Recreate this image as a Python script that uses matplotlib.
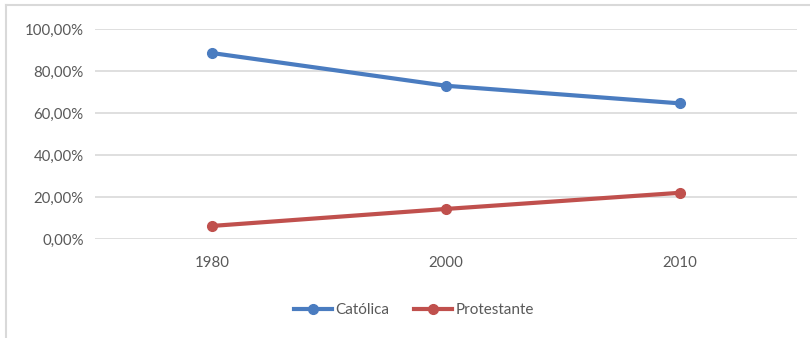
import matplotlib.pyplot as plt
from matplotlib.lines import Line2D
from matplotlib.ticker import FuncFormatter

anos = ['1980', '2000', '2010']
catolica = [0.886, 0.730, 0.646]
protestante = [0.062, 0.143, 0.220]

plt.rcParams['font.family'] = ['Lato', 'DejaVu Sans']

fig = plt.figure(figsize=(8.1, 3.38), dpi=100)
ax = fig.add_axes([0.117, 0.293, 0.867, 0.621])

x = range(len(anos))
ax.plot(x, catolica, color='#4A7CC0', lw=3, marker='o', ms=7, label='Católica')
ax.plot(x, protestante, color='#C0504D', lw=3, marker='o', ms=7, label='Protestante')

ax.set_xlim(-0.5, 2.5)
ax.set_ylim(0, 1)
ax.set_yticks([0, 0.2, 0.4, 0.6, 0.8, 1.0])
ax.yaxis.set_major_formatter(FuncFormatter(lambda v, p: ('%.2f%%' % (v * 100)).replace('.', ',')))
ax.set_xticks(list(x))
ax.set_xticklabels(anos)
ax.grid(axis='y', color='#D9D9D9', lw=1.2)
ax.set_axisbelow(True)
for s in ax.spines.values():
    s.set_visible(False)
ax.tick_params(length=0, labelsize=10.8, colors='#595959', pad=8)
ax.tick_params(axis='x', pad=12)

leg = fig.legend(loc='center', bbox_to_anchor=(0.511, 0.083), ncol=2, frameon=False,
                 fontsize=11, handlelength=2.5, columnspacing=1.6, handletextpad=0.2)
for t in leg.get_texts():
    t.set_color('#595959')

# outer chart frame (only top and left edges visible in the reference)
fig.lines.append(Line2D([0.007, 0.007], [0.0, 0.985], transform=fig.transFigure,
                        color='#D9D9D9', lw=1.5))
fig.lines.append(Line2D([0.007, 1.0], [0.985, 0.985], transform=fig.transFigure,
                        color='#D9D9D9', lw=1.5))

fig.savefig('out.png', dpi=100)
